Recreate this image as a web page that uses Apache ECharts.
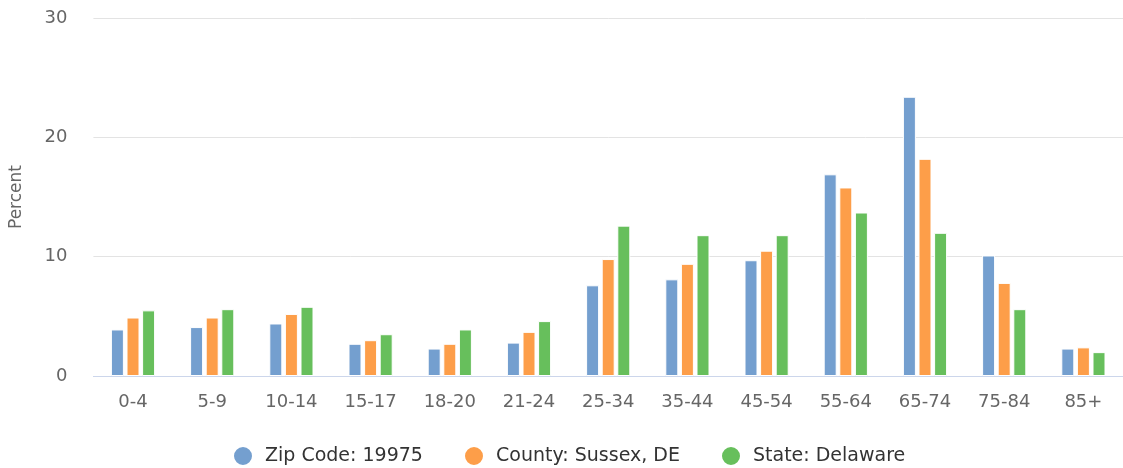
<!DOCTYPE html>
<html>
<head>
<meta charset="utf-8">
<script src="https://cdn.jsdelivr.net/npm/echarts@6/dist/echarts.min.js"></script>
<style>
html,body{margin:0;padding:0;background:#fff;}
#chart{width:1123px;height:468px;}
</style>
</head>
<body>
<div id="chart"></div>
<script>
const categories = ['0-4','5-9','10-14','15-17','18-20','21-24','25-34','35-44','45-54','55-64','65-74','75-84','85+'];
const zipValues = [3.9, 4.1, 4.4, 2.7, 2.3, 2.8, 7.6, 8.1, 9.7, 16.9, 23.4, 10.1, 2.3];
const countyValues = [4.9, 4.9, 5.2, 3.0, 2.7, 3.7, 9.8, 9.4, 10.5, 15.8, 18.2, 7.8, 2.4];
const stateValues = [5.5, 5.6, 5.8, 3.5, 3.9, 4.6, 12.6, 11.8, 11.8, 13.7, 12.0, 5.6, 2.0];
const seriesNames = ['Zip Code: 19975', 'County: Sussex, DE', 'State: Delaware'];
const colors = ['#749fcf', '#fd9e49', '#67bf5c'];

const FONT = 'DejaVu Sans';
const chart = echarts.init(document.getElementById('chart'), null, {renderer: 'canvas'});

function legendFor(i, left) {
  return {
    data: [seriesNames[i]],
    left: left,
    top: 445,
    icon: 'circle',
    itemWidth: 34,
    itemHeight: 20,
    itemGap: 0,
    padding: 0,
    selectedMode: true,
    textStyle: {fontFamily: FONT, fontSize: 19, color: '#333333', fontWeight: 'normal'}
  };
}

const seriesData = [zipValues, countyValues, stateValues];

chart.setOption({
  animation: false,
  textStyle: {fontFamily: FONT},
  color: colors,
  legend: [legendFor(0, 232), legendFor(1, 463), legendFor(2, 720)],
  grid: {left: 93.4, top: 18, width: 1038, height: 358, containLabel: false},
  xAxis: {
    type: 'category',
    data: categories,
    axisLine: {show: true, lineStyle: {color: '#ccd6eb', width: 1}},
    axisTick: {show: false},
    axisLabel: {color: '#666666', fontFamily: FONT, fontSize: 18, margin: 17, interval: 0},
    splitLine: {show: false}
  },
  yAxis: {
    type: 'value',
    min: 0,
    max: 30,
    interval: 10,
    name: 'Percent',
    nameLocation: 'middle',
    nameGap: 68,
    nameTextStyle: {color: '#666666', fontFamily: FONT, fontSize: 17},
    axisLine: {show: false},
    axisTick: {show: false},
    axisLabel: {color: '#666666', fontFamily: FONT, fontSize: 18, margin: 26},
    splitLine: {show: true, lineStyle: {color: '#e3e3e3', width: 1}}
  },
  series: seriesData.map((vals, i) => ({
    name: seriesNames[i],
    type: 'bar',
    data: vals,
    barWidth: 13,
    barGap: '20%',
    itemStyle: {color: colors[i], borderColor: '#ffffff', borderWidth: 1}
  }))
});
</script>
</body>
</html>
